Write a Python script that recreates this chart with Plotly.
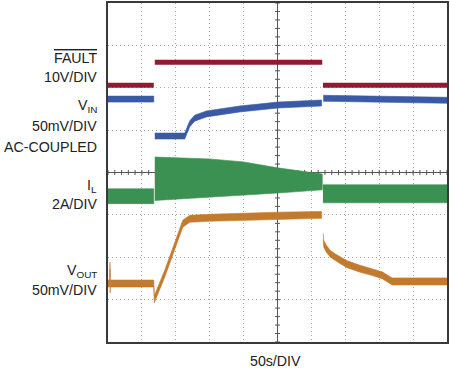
import plotly.graph_objects as go

# ---------------- data (read from the scope shot) ----------------
# time in seconds (50 s/div, 10 divisions)
fault_t = [0, 67.5, None, 69, 316, None, 317, 500]
fault_v = [0, 0, None, 5.4, 5.4, None, 0, 0]            # V (10V/DIV)

vin_t = [0, 67.5, None, 69, 113.2, 120.6, 127.9, 145.1, 169.6, 194.1, 250.4, 315, None, 317.5, 400, 500]
vin_mv = [3.6, 3.6, None, -40, -40, -25.5, -18.9, -13.9, -10.8, -8.1, -3.4, -1.0, None, 4.6, 3.2, 2.2]

vout_t = [0, 2.6, 2.9, 3.2, 3.5, 67.5, 68.3, 83.8, 110.3, 120.6, 150, 250, 315, None,
          317.4, 318.2, 322, 328, 335, 341, 352, 370.6, 390, 405, 419, 500]
vout_mv = [1, 1, 22, -6, 1, 1, -17.6, 12.9, 71.6, 77.4, 78.6, 81, 82, None,
           56, 48, 42, 36, 32, 29.3, 24, 18.7, 14.5, 10.5, 3.5, 3.5]

il_t = [0, 67.5, None, 69, 150, 200, 250, 316, None, 317, 500]
il_hi = [0.05, 0.05, None, 1.55, 1.46, 1.32, 1.04, 0.75, None, 0.24, 0.24]   # A (2A/DIV)
il_lo = [-0.65, -0.65, None, -0.5, -0.33, -0.24, -0.15, 0.0, None, -0.61, -0.61]

# ---------------- channel placement (divisions from bottom) ----------------
FAULT_ZERO, FAULT_SCALE = 6.06, 10.0
VIN_ZERO, VIN_SCALE = 5.66, 50.0
IL_ZERO, IL_SCALE = 3.59, 2.0
VOUT_ZERO, VOUT_SCALE = 1.36, 50.0

C_FAULT = "#8e1b2f"
C_VIN = "#3a5aa6"
C_IL = "#3a9152"
C_VOUT = "#c27a2f"

PX_PER_DIV_Y = 341 / 8
PX_PER_DIV_X = 340 / 10


def to_div(vals, zero, scale):
    return [None if v is None else zero + v / scale for v in vals]


def segments(t, y):
    segs, cur = [], []
    for a, b in zip(t, y):
        if a is None:
            if cur:
                segs.append(cur)
            cur = []
        else:
            cur.append((a, b))
    if cur:
        segs.append(cur)
    return segs


def band_traces(t, lo, hi, color):
    out = []
    for a, b in zip(segments(t, lo), segments(t, hi)):
        xs = [p[0] for p in b] + [p[0] for p in reversed(a)]
        ys = [p[1] for p in b] + [p[1] for p in reversed(a)]
        out.append(go.Scatter(x=xs, y=ys, fill="toself", fillcolor=color, mode="lines",
                              line=dict(width=0.6, color=color), hoverinfo="skip", showlegend=False))
    return out


fig = go.Figure()

# FAULT
fig.add_trace(go.Scatter(x=fault_t, y=to_div(fault_v, FAULT_ZERO, FAULT_SCALE), mode="lines",
                         line=dict(color=C_FAULT, width=5), showlegend=False, connectgaps=False))

# VIN (noisy band ~6px thick)
vin_c = to_div(vin_mv, VIN_ZERO, VIN_SCALE)
h = 3.0 / PX_PER_DIV_Y
fig.add_traces(band_traces(vin_t, [None if v is None else v - h for v in vin_c],
                           [None if v is None else v + h for v in vin_c], C_VIN))

# IL envelope
fig.add_traces(band_traces(il_t, to_div(il_lo, IL_ZERO, IL_SCALE), to_div(il_hi, IL_ZERO, IL_SCALE), C_IL))

# VOUT (noisy band ~7px thick)
vout_c = to_div(vout_mv, VOUT_ZERO, VOUT_SCALE)
h = 3.5 / PX_PER_DIV_Y
fig.add_traces(band_traces(vout_t, [None if v is None else v - h for v in vout_c],
                           [None if v is None else v + h for v in vout_c], C_VOUT))

# channel ground markers
mk_t = -5.2
fig.add_trace(go.Scatter(x=[mk_t] * 4, y=[FAULT_ZERO, VIN_ZERO, IL_ZERO, VOUT_ZERO], mode="markers",
                         marker=dict(symbol="triangle-right", size=8,
                                     color=["#b3283f", C_VIN, "#7a5634", "#e8b88a"]),
                         cliponaxis=False, showlegend=False, hoverinfo="skip"))

# centre cross with minor ticks
shapes = [
    dict(type="line", xref="x", yref="y", x0=0, x1=500, y0=4, y1=4, line=dict(color="#555", width=1), layer="between"),
    dict(type="line", xref="x", yref="y", x0=250, x1=250, y0=0, y1=8, line=dict(color="#555", width=1), layer="between"),
]
ty = 2.5 / PX_PER_DIV_Y
tx = 2.5 / PX_PER_DIV_X * 50
for i in range(51):
    x = i * 10
    shapes.append(dict(type="line", xref="x", yref="y", x0=x, x1=x, y0=4 - ty, y1=4 + ty,
                       line=dict(color="#555", width=1), layer="between"))
for i in range(41):
    y = i * 0.2
    shapes.append(dict(type="line", xref="x", yref="y", x0=250 - tx, x1=250 + tx, y0=y, y1=y,
                       line=dict(color="#555", width=1), layer="between"))

fig.update_layout(shapes=shapes)

# labels
FONT = "Liberation Sans, Arial, sans-serif"
FS = 14.2
PLOT_H = 341


def py(ypix):
    return 1 - ypix / PLOT_H


def px(xpix):
    return (xpix - 108) / 340


labels = [
    ("FAULT", 55, True),
    ("10V/DIV", 74.5, False),
    ("V<sub>IN</sub>", 104, False),
    ("50mV/DIV", 124, False),
    ("AC-COUPLED", 145, False),
    ("I<sub>L</sub>", 184, False),
    ("2A/DIV", 202.5, False),
    ("V<sub>OUT</sub>", 270, False),
    ("50mV/DIV", 289, False),
]
ann = []
for txt, yp, over in labels:
    f = dict(family=FONT, size=FS, color="#222")
    if over:
        f["lineposition"] = "over"
    ann.append(dict(text=txt, xref="paper", yref="paper", x=px(98.5), y=py(yp), xanchor="right",
                    yanchor="middle", showarrow=False, font=f))
ann.append(dict(text="50s/DIV", xref="paper", yref="paper", x=px(276), y=py(360.5), xanchor="center",
                yanchor="middle", showarrow=False, font=dict(family=FONT, size=FS, color="#222")))

fig.update_layout(
    width=450, height=372,
    margin=dict(l=108, r=2, t=1, b=30),
    paper_bgcolor="white", plot_bgcolor="white",
    annotations=ann,
    xaxis=dict(range=[0, 500], dtick=50, tick0=0, showticklabels=False, ticks="",
               showgrid=True, gridcolor="#a8a8a8", griddash="1px,3px", gridwidth=1,
               zeroline=False, showline=True, mirror=True, linecolor="#3a3a3a", linewidth=2),
    yaxis=dict(range=[0, 8], dtick=1, tick0=0, showticklabels=False, ticks="",
               showgrid=True, gridcolor="#a8a8a8", griddash="1px,3px", gridwidth=1,
               zeroline=False, showline=True, mirror=True, linecolor="#3a3a3a", linewidth=2),
)

fig.write_html("out.html")
